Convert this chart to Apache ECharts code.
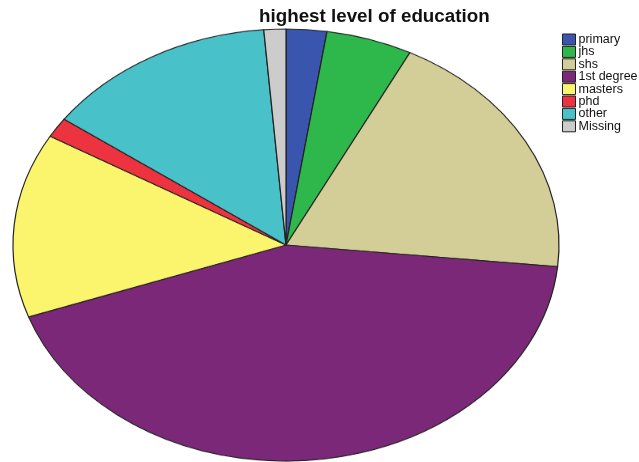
<!DOCTYPE html>
<html>
<head>
<meta charset="utf-8">
<script src="https://cdn.jsdelivr.net/npm/echarts@6/dist/echarts.min.js"></script>
<style>
html,body{margin:0;padding:0;background:#fff;}
#wrap{position:relative;width:639px;height:462px;overflow:hidden;}
#pie{position:absolute;left:6px;top:-35px;width:560px;height:560px;transform:scaleY(0.7912);transform-origin:50% 50%;}
#over{position:absolute;left:0;top:0;width:639px;height:462px;}
</style>
</head>
<body>
<div id="wrap"><div id="pie"></div><div id="over"></div></div>
<script>
const categories = ['primary','jhs','shs','1st degree','masters','phd','other','Missing'];
const values = [2.4, 5.1, 19.1, 43.0, 13.8, 1.5, 13.8, 1.3];
const colors = ['#3A55AE','#2EB84C','#D3CE98','#7B2878','#FBF56E','#EE3340','#48C1C8','#CCCCCC'];
const title = 'highest level of education';

const data = categories.map((c,i)=>({name:c,value:values[i],itemStyle:{color:colors[i]}}));

const pie = echarts.init(document.getElementById('pie'));
pie.setOption({
  animation:false,
  series:[{
    type:'pie',
    center:['50%','50%'],
    radius:[0,273],
    startAngle:90,
    clockwise:true,
    silent:true,
    label:{show:false},
    labelLine:{show:false},
    itemStyle:{borderColor:'#222',borderWidth:1.2},
    data:data
  }]
});

const over = echarts.init(document.getElementById('over'));
over.setOption({
  animation:false,
  title:{
    text:title,
    left:254, top:2,
    textStyle:{fontFamily:'Liberation Sans, Arial, sans-serif',fontSize:18.8,fontWeight:'bold',color:'#111'}
  },
  legend:{
    orient:'vertical',
    left:557, top:28,
    icon:'rect',
    itemWidth:13, itemHeight:11, itemGap:-0.6,
    selectedMode:false,
    itemStyle:{borderColor:'#222',borderWidth:1},
    textStyle:{fontFamily:'Liberation Sans, Arial, sans-serif',fontSize:12.5,color:'#111',padding:[0,0,0,-2],lineHeight:11},
    data:categories
  },
  series:[{
    type:'pie',
    radius:[0,0],
    center:[-100,-100],
    silent:true,
    label:{show:false},
    labelLine:{show:false},
    data:data
  }]
});
</script>
</body>
</html>
